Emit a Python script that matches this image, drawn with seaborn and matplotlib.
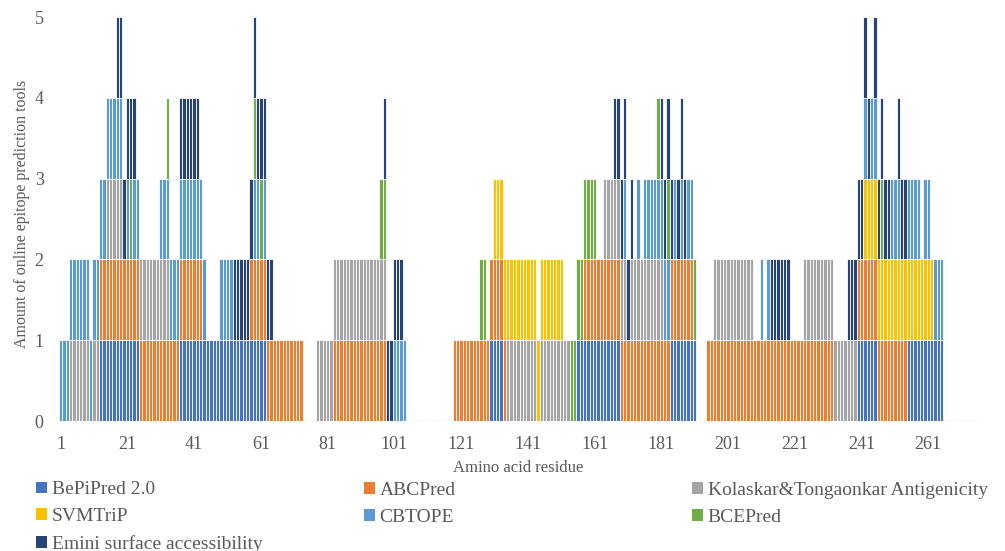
import numpy as np
import pandas as pd
import seaborn as sns
import matplotlib.pyplot as plt
from matplotlib.patches import Patch

# --- Datos: residuos predichos como epítopo por cada herramienta (rangos inclusivos) ---
n_residues = 276
tools = ['BePiPred 2.0', 'ABCPred', 'Kolaskar&Tongaonkar Antigenicity', 'SVMTriP',
         'CBTOPE', 'BCEPred', 'Emini surface accessibility']
colors = ['#4472C4', '#ED7D31', '#A5A5A5', '#FFC000', '#5B9BD5', '#70AD47', '#264478']

bepipred = [(13, 24), (37, 62), (130, 133), (156, 168), (184, 191), (240, 245), (255, 265)]
abcpred = [(13, 43), (58, 73), (83, 98), (119, 134), (158, 190), (195, 232), (240, 254)]
kolaskar = [(4, 9), (11, 12), (15, 19), (25, 33), (78, 98), (135, 143), (145, 153),
            (164, 170), (172, 181), (197, 208), (224, 239)]
svmtrip = [(131, 151), (242, 262)]
cbtope = [(1, 19), (21, 21), (23, 24), (31, 44), (49, 52), (59, 60), (62, 62), (101, 104),
          (170, 170), (174, 174), (176, 183), (185, 185), (187, 187), (189, 190), (211, 211),
          (213, 213), (242, 242), (244, 245), (250, 252), (255, 258), (260, 261), (263, 265)]
bcepred = [(22, 22), (33, 33), (59, 59), (61, 61), (97, 98), (127, 128), (154, 161),
           (180, 180), (183, 183), (191, 191), (247, 247)]
emini = [(18, 23), (37, 42), (53, 64), (98, 103), (167, 172), (181, 184), (186, 188),
         (214, 219), (237, 243), (245, 249), (252, 254)]

tool_ranges = [bepipred, abcpred, kolaskar, svmtrip, cbtope, bcepred, emini]

# tabla 0/1 por residuo
residues = np.arange(1, n_residues + 1)
df = pd.DataFrame({'residue': residues})
for name, rr in zip(tools, tool_ranges):
    col = np.zeros(n_residues)
    for a, b in rr:
        col[a - 1:b] = 1
    df[name] = col

# --- Estilo ---
sns.set_theme(style='white')
plt.rcParams['font.family'] = ['Liberation Serif', 'DejaVu Serif']
text_color = '#595959'

fig = plt.figure(figsize=(10.05, 5.51), dpi=100)
ax = fig.add_axes([59 / 1005, 1 - 421 / 551, 921 / 1005, 404 / 551])

# línea base punteada (barras de valor cero)
ax.axhline(0, color='#8EA9DB', lw=1.0, ls=(0, (1, 1.5)), zorder=1)

# barras apiladas
bottom = np.zeros(n_residues)
for name, c in zip(tools, colors):
    vals = df[name].values
    mask = vals > 0
    ax.bar(df['residue'][mask], vals[mask], bottom=bottom[mask], width=1.0,
           color=c, edgecolor='white', linewidth=0.6, zorder=2)
    bottom += vals

ax.set_xlim(0.5, n_residues + 0.5)
ax.set_ylim(0, 5)
ax.set_xticks(range(1, 262, 20))
ax.set_yticks(range(0, 6))
ax.tick_params(length=0, labelsize=13, labelcolor=text_color, pad=11)
sns.despine(ax=ax, left=True, bottom=True)

fig.text(518 / 1005, 1 - 468 / 551, 'Amino acid residue', ha='center', va='center',
         fontsize=12, color=text_color)
fig.text(22 / 1005, 1 - 214 / 551, 'Amount of online epitope prediction tools',
         rotation=90, ha='center', va='center', fontsize=11.5, color=text_color)

# --- Leyenda en 3 columnas (orden por filas) ---
handles = [Patch(facecolor=c, edgecolor='none') for c in colors]
columns = [[0, 3, 6], [1, 4], [2, 5]]
col_x = [36, 364, 692]
col_y = [517, 504, 504]
for idx, x, y in zip(columns, col_x, col_y):
    fig.legend([handles[i] for i in idx], [tools[i] for i in idx],
               loc='center left', bbox_to_anchor=(x / 1005, 1 - y / 551),
               frameon=False, fontsize=14, handlelength=0.55, handleheight=0.55,
               handletextpad=0.25, borderpad=0, borderaxespad=0, labelspacing=0.5,
               labelcolor=text_color)

plt.savefig('out.png', dpi=100)
